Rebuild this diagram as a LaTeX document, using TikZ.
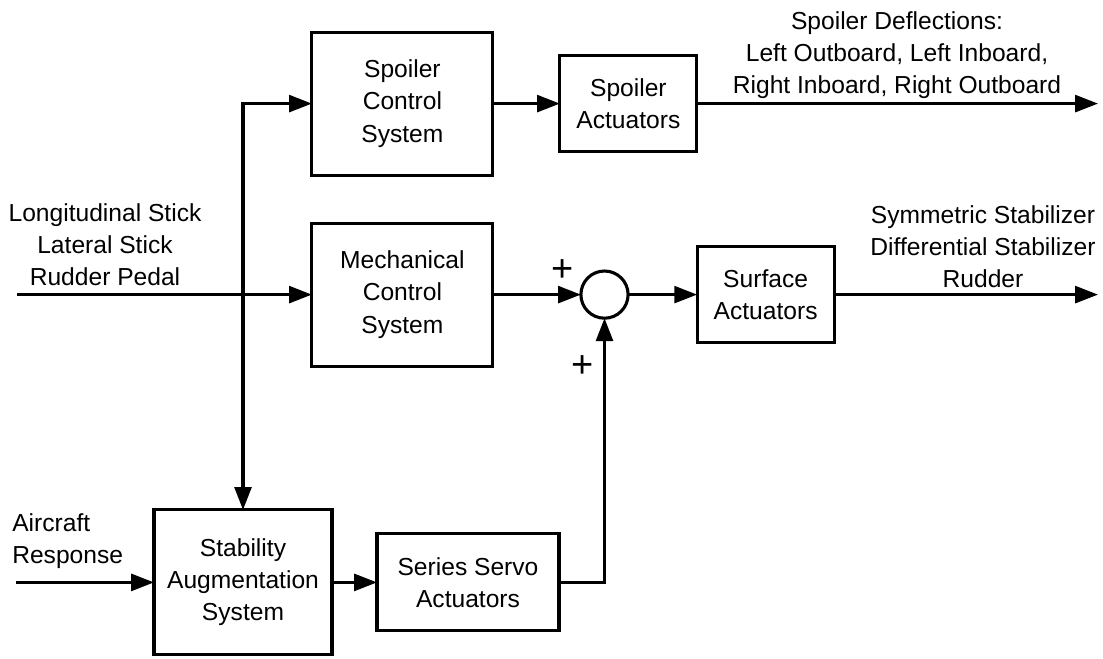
\documentclass[tikz,border=0pt]{standalone}
\usepackage{fontspec}
\setmainfont{Liberation Sans}
\usetikzlibrary{arrows.meta,positioning}
\tikzset{
  block/.style={rectangle, draw, line width=2.2pt, outer sep=0pt, inner sep=0pt, align=center, font=\fontsize{17.5}{22.8}\selectfont},
  bigblock/.style={block, minimum width=4.525cm, minimum height=3.575cm},
  smallblock/.style={block, minimum width=3.425cm, minimum height=2.4cm},
  sumnode/.style={circle, draw, line width=2.2pt, outer sep=0pt, inner sep=0pt, minimum size=1.18cm},
  sigtext/.style={align=center, inner sep=0pt, font=\fontsize{17.5}{22.8}\selectfont},
  signtext/.style={inner sep=0pt, font=\fontsize{27}{27}\selectfont},
  line/.style={-{Triangle[length=0.57cm,width=0.42cm]}, line width=2.2pt},
  twoline/.style={{Triangle[length=0.57cm,width=0.42cm]}-{Triangle[length=0.57cm,width=0.42cm]}, line width=2.2pt}
}
\begin{document}
\begin{tikzpicture}[node distance=1.2cm and 1.675cm]
  \useasboundingbox (0,0) rectangle (27.575,-16.45);
  \node[bigblock] (spoilerctl) at (10.06,-2.59) {Spoiler\\Control\\System};
  \node[smallblock, right=of spoilerctl] (spoileract) {Spoiler\\Actuators};
  \node[bigblock, below=of spoilerctl] (mechctl) {Mechanical\\Control\\System};
  \node[sumnode, right=2.2cm of mechctl] (sum) {};
  \node[smallblock, right=1.725cm of sum] (surfact) {Surface\\Actuators};
  \node[block, minimum width=4.45cm, minimum height=3.625cm] (sas) at (6.075,-14.56) {Stability\\Augmentation\\System};
  \node[block, minimum width=4.55cm, minimum height=2.425cm, right=1.125cm of sas] (servo) {Series Servo\\Actuators};

  % signal labels
  \node[sigtext] (sticklabel) at (2.625,-6.125) {Longitudinal Stick\\Lateral Stick\\Rudder Pedal};
  \node[sigtext, align=left, anchor=west] (aircraftlabel) at (0.3,-13.54) {Aircraft\\Response};
  \node[sigtext] (spoilerlabel) at (22.425,-1.37) {Spoiler Deflections:\\Left Outboard, Left Inboard,\\Right Inboard, Right Outboard};
  \node[sigtext] (surflabel) at (24.575,-6.17) {Symmetric Stabilizer\\Differential Stabilizer\\Rudder};
  \node[signtext] (plusa) at (14.06,-6.77) {+};
  \node[signtext] (plusb) at (14.575,-9.17) {+};

  \coordinate (stickin) at (0.425,0 |- mechctl);
  \coordinate (aircraftin) at (0.4,0 |- sas);
  \coordinate (spoilerout) at (27.45,0 |- spoileract);
  \coordinate (surfout) at (27.45,0 |- surfact);

  \draw[line] (stickin) -- (mechctl);
  \draw[twoline] (spoilerctl.west) -| (sas.north);
  \draw[line] (spoilerctl) -- (spoileract);
  \draw[line] (spoileract) -- (spoilerout);
  \draw[line] (mechctl) -- (sum);
  \draw[line] (sum) -- (surfact);
  \draw[line] (surfact) -- (surfout);
  \draw[line] (aircraftin) -- (sas);
  \draw[line] (sas) -- (servo);
  \draw[line] (servo) -| (sum);
\end{tikzpicture}
\end{document}
